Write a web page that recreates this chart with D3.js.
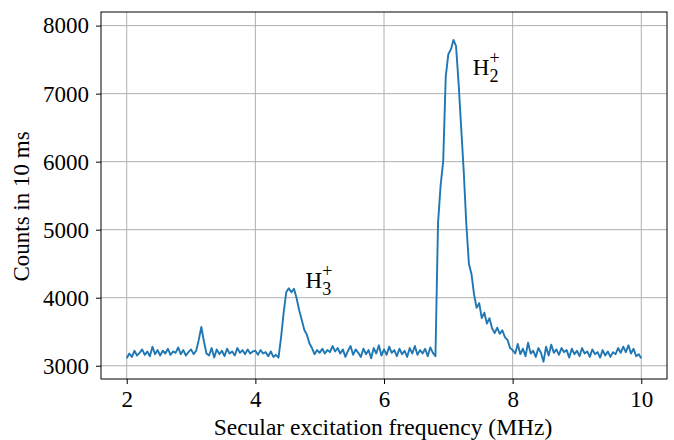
<!DOCTYPE html>
<html>
<head>
<meta charset="utf-8">
<script src="https://cdn.jsdelivr.net/npm/d3@7"></script>
<style>
body { margin: 0; background: #fff; }
text { font-family: "Liberation Serif", "Times New Roman", serif; fill: #000; }
</style>
</head>
<body>
<div id="svg-container"></div>
<script>
// sweep grid (MHz), 0.04 MHz steps from 2 to 10
var freqStart = 2.0, freqStep = 0.04;

// counts in 10 ms, one row per MHz
var counts2 = [3110, 3180, 3130, 3220, 3150, 3190, 3240, 3160, 3210, 3140, 3280, 3170, 3230,
	3150, 3220, 3180, 3250, 3160, 3210, 3190, 3270, 3170, 3230, 3150, 3200];
var counts3 = [3240, 3170, 3220, 3380, 3570, 3360, 3180, 3150, 3260, 3120, 3240, 3170, 3220,
	3140, 3250, 3180, 3210, 3150, 3260, 3190, 3230, 3170, 3240, 3180, 3210];
var counts4 = [3220, 3160, 3230, 3180, 3200, 3140, 3210, 3130, 3160, 3120, 3420, 3780, 4080,
	4140, 4080, 4130, 4000, 3820, 3680, 3530, 3460, 3330, 3260, 3170, 3230];
var counts5 = [3190, 3250, 3180, 3230, 3200, 3290, 3210, 3260, 3180, 3240, 3130, 3220, 3290,
	3160, 3240, 3190, 3130, 3250, 3170, 3230, 3110, 3260, 3180, 3300, 3150];
var counts6 = [3240, 3160, 3280, 3190, 3230, 3140, 3250, 3170, 3220, 3130, 3260, 3180, 3290,
	3160, 3230, 3180, 3250, 3140, 3270, 3190, 3140, 5100, 5650, 6000, 7250];
var counts7 = [7580, 7650, 7790, 7700, 7150, 6500, 5850, 5080, 4500, 4350, 4050, 3850, 3920,
	3700, 3780, 3620, 3700, 3550, 3480, 3560, 3470, 3520, 3420, 3380, 3260];
var counts8 = [3230, 3180, 3320, 3170, 3250, 3140, 3340, 3180, 3220, 3130, 3260, 3190, 3060,
	3280, 3150, 3310, 3190, 3240, 3160, 3260, 3200, 3230, 3120, 3250, 3170];
var counts9 = [3220, 3140, 3260, 3180, 3210, 3130, 3240, 3170, 3200, 3120, 3230, 3150, 3210,
	3130, 3200, 3170, 3260, 3190, 3280, 3200, 3300, 3180, 3250, 3140, 3170, 3110];

var xTicks = [2, 4, 6, 8, 10];
var yTicks = [3000, 4000, 5000, 6000, 7000, 8000];

var peakLabels = [
	{ x: 4.78, y: 4140, sub: "3" },
	{ x: 7.38, y: 7280, sub: "2" }
];

var counts = [].concat(counts2, counts3, counts4, counts5, counts6, counts7, counts8, counts9);
var data = counts.map(function(c, i){ return [freqStart + i * freqStep, c]; });

var W = 674, H = 440;
var mLeft = 101, mRight = 667, mTop = 12, mBottom = 379;

var svg = d3.select('#svg-container').append('svg')
	.attr('width', W)
	.attr('height', H);

var x = d3.scaleLinear().domain([1.6, 10.4]).range([mLeft, mRight]);
var y = d3.scaleLinear().domain([2805, 8200]).range([mBottom, mTop]);

// gridlines
svg.append('g').selectAll('line')
	.data(xTicks).enter().append('line')
	.attr('x1', function(d){ return x(d) }).attr('x2', function(d){ return x(d) })
	.attr('y1', mTop).attr('y2', mBottom)
	.attr('stroke', '#b0b0b0').attr('stroke-width', 1);
svg.append('g').selectAll('line')
	.data(yTicks).enter().append('line')
	.attr('y1', function(d){ return y(d) }).attr('y2', function(d){ return y(d) })
	.attr('x1', mLeft).attr('x2', mRight)
	.attr('stroke', '#b0b0b0').attr('stroke-width', 1);

// the trace
var line = d3.line()
	.x(function(d){ return x(d[0]) })
	.y(function(d){ return y(d[1]) });

svg.append('path')
	.datum(data)
	.attr('d', line)
	.attr('fill', 'none')
	.attr('stroke', '#1f77b4')
	.attr('stroke-width', 1.9)
	.attr('stroke-linejoin', 'round');

// axes
var xAxis = svg.append('g')
	.attr('transform', 'translate(0,' + mBottom + ')')
	.call(d3.axisBottom(x).tickValues(xTicks).tickSize(5).tickPadding(7).tickFormat(d3.format('d')));
var yAxis = svg.append('g')
	.attr('transform', 'translate(' + mLeft + ',0)')
	.call(d3.axisLeft(y).tickValues(yTicks).tickSize(5).tickPadding(7).tickFormat(d3.format('d')));

[xAxis, yAxis].forEach(function(a){
	a.attr('font-family', '"Liberation Serif", serif').attr('font-size', 23);
	a.select('.domain').remove();
	a.selectAll('.tick line').attr('stroke', '#000').attr('stroke-width', 1);
	a.selectAll('.tick text').attr('fill', '#000').style('font-size', '23px');
});

// frame
svg.append('rect')
	.attr('x', mLeft).attr('y', mTop)
	.attr('width', mRight - mLeft).attr('height', mBottom - mTop)
	.attr('fill', 'none')
	.attr('stroke', '#000')
	.attr('stroke-width', 1);

// axis labels
svg.append('text')
	.attr('x', (mLeft + mRight) / 2 - 1)
	.attr('y', 435)
	.attr('text-anchor', 'middle')
	.style('font-size', '23.5px')
	.text('Secular excitation frequency (MHz)');

svg.append('text')
	.attr('transform', 'translate(29,' + ((mTop + mBottom) / 2 + 11) + ') rotate(-90)')
	.attr('text-anchor', 'middle')
	.style('font-size', '23px')
	.text('Counts in 10 ms');

// peak labels
peakLabels.forEach(function(p){
	var t = svg.append('text')
		.attr('x', x(p.x))
		.attr('y', y(p.y))
		.style('font-size', '23px');
	t.append('tspan').text('H');
	t.append('tspan').attr('dy', 7).style('font-size', '18px').text(p.sub);
	t.append('tspan').attr('dx', -9).attr('dy', -18).style('font-size', '18px').text('+');
});
</script>
</body>
</html>
